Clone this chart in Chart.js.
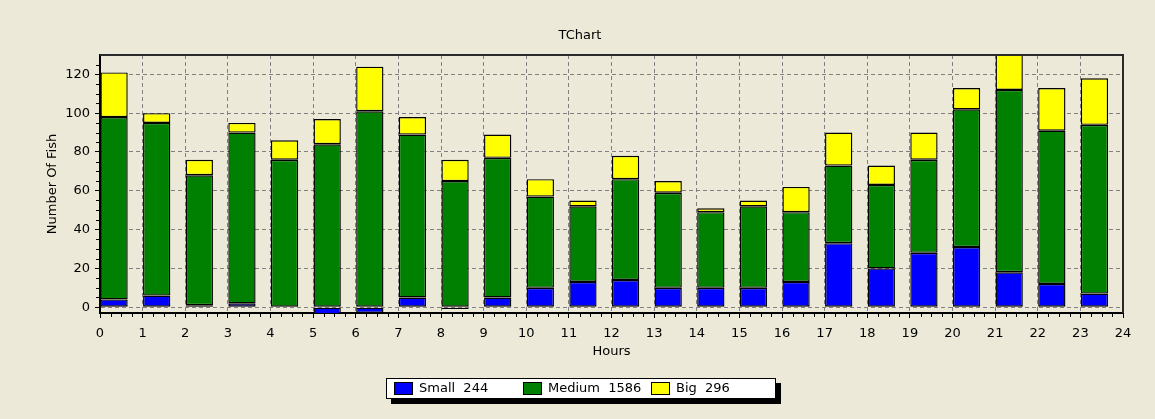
<!DOCTYPE html>
<html>
<head>
<meta charset="utf-8">
<script src="https://cdn.jsdelivr.net/npm/chart.js@4/dist/chart.umd.min.js"></script>
<style>
html,body{margin:0;padding:0;background:#ECE9D8;}
canvas{display:block;}
</style>
</head>
<body>
<canvas id="c" width="1155" height="419"></canvas>
<script>
// ---- data ----
const hours  = [0,1,2,3,4,5,6,7,8,9,10,11,12,13,14,15,16,17,18,19,20,21,22,23];
const small  = [4,6,1,2,0,-4,-3,5,-1,5,10,13,14,10,10,10,13,33,20,28,31,18,12,7];
const medium = [94,89,67,88,76,84,101,84,65,72,47,39,52,49,39,42,36,40,43,48,71,94,79,87];
const big    = [23,5,8,5,10,13,23,9,11,12,9,3,12,6,2,3,13,17,10,14,11,31,22,24];
const seriesNames = ['Small','Medium','Big'];
const seriesColors = ['#0000FF','#008000','#FFFF00'];
const chartTitle = 'TChart';
const xTitle = 'Hours';
const yTitle = 'Number Of Fish';

const FONT = "'DejaVu Sans', sans-serif";
const font = {family: FONT, size: 13, weight: 'normal'};

function makeDataset(name, values, color) {
  return {
    label: name,
    data: hours.map((h, i) => ({x: h, y: values[i]})),
    backgroundColor: color,
    borderColor: '#000',
    borderWidth: 1.4,
    borderSkipped: false,
    inflateAmount: 0,
    xAxisID: 'xb',
    yAxisID: 'y',
    barPercentage: 0.64,
    categoryPercentage: 1,
    clip: 0
  };
}

const bgPlugin = {
  id: 'bg',
  beforeDraw(chart) {
    const ctx = chart.ctx;
    ctx.save();
    ctx.fillStyle = '#ECE9D8';
    ctx.fillRect(0, 0, chart.width, chart.height);
    ctx.restore();
  }
};

const framePlugin = {
  id: 'frame',
  afterDatasetsDraw(chart) {
    const {ctx, chartArea: a, scales} = chart;
    ctx.save();
    ctx.strokeStyle = '#2a2a2a';
    ctx.lineWidth = 2;
    ctx.beginPath();
    ctx.moveTo(a.left, a.top);
    ctx.lineTo(a.right, a.top);
    ctx.lineTo(a.right, a.bottom);
    ctx.stroke();
    // minor ticks
    ctx.strokeStyle = '#000';
    ctx.lineWidth = 1;
    ctx.beginPath();
    const xs = scales.x;
    for (let i = 0; i < 24; i++) {
      for (let k = 1; k < 4; k++) {
        const px = Math.round(xs.getPixelForValue(i + k / 4)) + 0.5;
        ctx.moveTo(px, a.bottom + 1);
        ctx.lineTo(px, a.bottom + 4);
      }
    }
    const ys = scales.y;
    for (let v = 5; v < 130; v += 5) {
      if (v % 20 === 0) continue;
      const py = Math.round(ys.getPixelForValue(v)) + 0.5;
      ctx.moveTo(a.left - 4, py);
      ctx.lineTo(a.left - 1, py);
    }
    ctx.stroke();
    ctx.restore();
  }
};

const legendPlugin = {
  id: 'tcLegend',
  afterDraw(chart) {
    const ctx = chart.ctx;
    const x = 386, y = 378, w = 390, h = 21;
    ctx.save();
    ctx.fillStyle = '#000';
    ctx.fillRect(x + 5, y + 5, w, h);
    ctx.fillStyle = '#fff';
    ctx.fillRect(x, y, w, h);
    ctx.strokeStyle = '#000';
    ctx.lineWidth = 1;
    ctx.strokeRect(x + 0.5, y + 0.5, w - 1, h - 1);
    ctx.font = '13px ' + FONT;
    ctx.textBaseline = 'middle';
    ctx.textAlign = 'left';
    chart.data.datasets.forEach((ds, i) => {
      const ix = Math.round(394 + i * 128.5);
      ctx.fillStyle = ds.backgroundColor;
      ctx.fillRect(ix, 382, 19, 13);
      ctx.strokeStyle = '#000';
      ctx.strokeRect(ix + 0.5, 382.5, 18, 12);
      const total = ds.data.reduce((s, p) => s + p.y, 0);
      ctx.fillStyle = '#000';
      ctx.fillText(ds.label + '  ' + total, ix + 25, 389);
    });
    ctx.restore();
  }
};

new Chart(document.getElementById('c'), {
  type: 'bar',
  data: {
    datasets: [
      makeDataset(seriesNames[0], small, seriesColors[0]),
      makeDataset(seriesNames[1], medium, seriesColors[1]),
      makeDataset(seriesNames[2], big, seriesColors[2])
    ]
  },
  options: {
    responsive: false,
    animation: false,
    devicePixelRatio: 1,
    layout: {padding: {left: 37, right: 32, top: 0, bottom: 56}},
    plugins: {
      legend: {display: false},
      tooltip: {enabled: false},
      title: {
        display: true, text: chartTitle, color: '#000', font: font,
        padding: {top: 28, bottom: 11.4}
      }
    },
    scales: {
      xb: {
        type: 'linear', display: false, offset: false, min: -0.33, max: 23.67, stacked: true,
        ticks: {stepSize: 1, includeBounds: false},
        grid: {display: false, offset: false}
      },
      x: {
        type: 'linear', position: 'bottom', offset: false, min: 0, max: 24,
        afterFit: s => { s.height = 50; },
        ticks: {stepSize: 1, includeBounds: false, padding: 8, color: '#000', font: font, maxRotation: 0, autoSkip: false},
        grid: {
          offset: false,
          color: c => (c.tick && (c.tick.value === 0 || c.tick.value === 24)) ? 'rgba(0,0,0,0)' : '#808080',
          tickColor: '#000', tickLength: 5, lineWidth: 1
        },
        border: {display: true, color: '#000', width: 2, dash: [4, 3]},
        title: {display: true, text: xTitle, color: '#000', font: font, padding: {top: 0, bottom: 3.2}}
      },
      y: {
        type: 'linear', position: 'left', min: -3, max: 130, stacked: true,
        afterFit: s => { s.width = 63; },
        ticks: {stepSize: 20, includeBounds: false, padding: 5, color: '#000', font: font},
        grid: {color: '#808080', tickColor: '#000', tickLength: 5, lineWidth: 1},
        border: {display: true, color: '#000', width: 2, dash: [4, 3]},
        title: {display: true, text: yTitle, color: '#000', font: font, padding: {top: 7.7, bottom: 0}}
      }
    }
  },
  plugins: [bgPlugin, framePlugin, legendPlugin]
});
</script>
</body>
</html>
